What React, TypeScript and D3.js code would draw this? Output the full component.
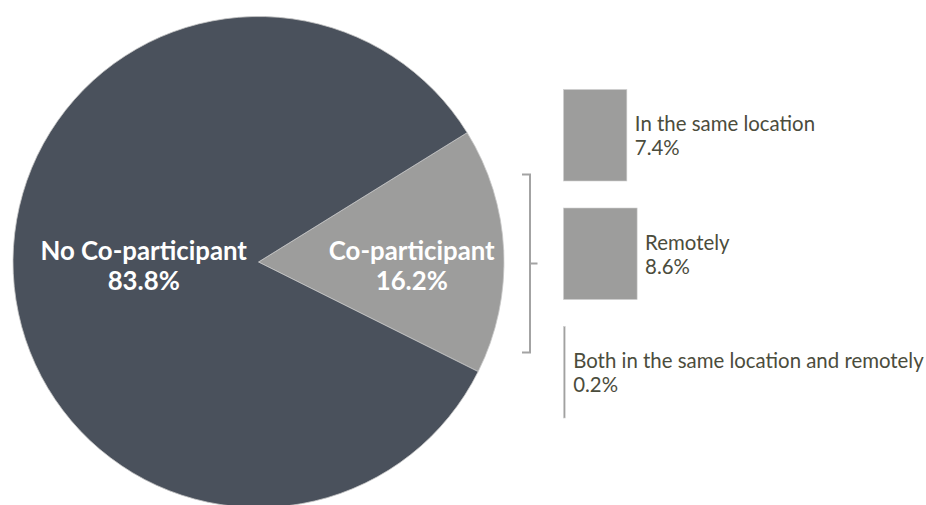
import React from "react";
import * as d3 from "d3";

const pieCategories = ["Co-participant", "No Co-participant"];
const pieValues = [16.2, 83.8];
const pieColors = ["#9d9d9c", "#4a515c"];
const pieLabelRadiusFactor = [0.625, 0.468];

const breakdownCategories = ["In the same location", "Remotely", "Both in the same location and remotely"];
const breakdownValues = [7.4, 8.6, 0.2];

const W = 926;
const H = 505;

export default function App() {
  const cx = 258.5;
  const cy = 262;
  const r = 245.5;
  const startDeg = 58.2;
  const pie = d3
    .pie<number>()
    .sort(null)
    .value((d) => d)
    .startAngle((startDeg * Math.PI) / 180)
    .endAngle(((startDeg + 360) * Math.PI) / 180);
  const arcs = pie(pieValues);
  const arcGen = d3.arc<d3.PieArcDatum<number>>().innerRadius(0).outerRadius(r);

  const x = d3.scaleLinear().domain([0, 10]).range([0, 85.6]);
  const barTop = 89.5;
  const barH = 91.5;
  const bandStep = 118.5;
  const barX = 563.5;

  const textColor = "#4b4c3c";
  const font = "Lato, 'Noto Sans', sans-serif";

  return (
    <svg width={W} height={H} style={{ position: "absolute", left: 0, top: 0 }}>
      <g transform={`translate(${cx},${cy})`}>
        {arcs.map((a, i) => (
          <path key={i} d={arcGen(a) || ""} fill={pieColors[i]} stroke="#c8c8c8" strokeWidth={0.8} />
        ))}
        {arcs.map((a, i) => {
          const lr = r * pieLabelRadiusFactor[i];
          const c = d3.arc<d3.PieArcDatum<number>>().innerRadius(lr).outerRadius(lr).centroid(a);
          return (
            <text
              key={"l" + i}
              x={c[0]}
              y={0}
              textAnchor="middle"
              fill="#ffffff"
              fontFamily={font}
              fontWeight={700}
              fontSize={25.8}
            >
              <tspan x={c[0]} dy={-2}>{pieCategories[i]}</tspan>
              <tspan x={c[0]} dy={30}>{pieValues[i].toFixed(1)}%</tspan>
            </text>
          );
        })}
      </g>
      {/* bracket */}
      <path
        d="M522,174.5 H530 V352.5 H522 M530,263.5 H537.5"
        fill="none"
        stroke="#a3a3a3"
        strokeWidth={2}
      />
      {breakdownValues.map((v, i) => {
        const y0 = barTop + i * bandStep;
        const w = x(v);
        const cyb = y0 + barH / 2;
        return (
          <g key={"b" + i}>
            <rect x={barX} y={y0} width={w} height={barH} fill="#9d9d9c" stroke="#cfcfcf" strokeWidth={0.6} />
            <text x={barX + w + 8} y={cyb} fill={textColor} fontFamily={font} fontSize={20.4}>
              <tspan x={barX + w + 8} dy={-4}>{breakdownCategories[i]}</tspan>
              <tspan x={barX + w + 8} dy={24}>{v.toFixed(1)}%</tspan>
            </text>
          </g>
        );
      })}
    </svg>
  );
}
